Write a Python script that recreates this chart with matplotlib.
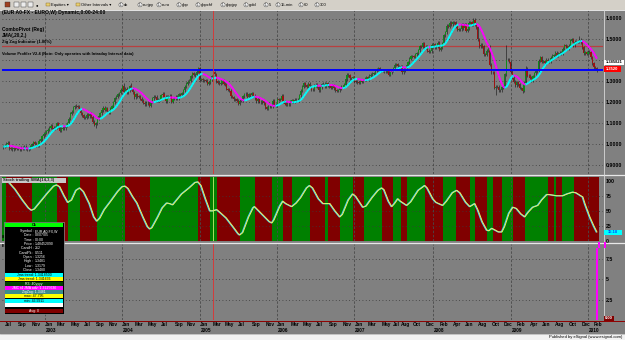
import numpy as np
import pandas as pd
import matplotlib
matplotlib.use("Agg")
import matplotlib.pyplot as plt
import matplotlib.transforms as mtransforms
from matplotlib.collections import LineCollection
from matplotlib.patches import Rectangle

plt.rcParams['font.family'] = ['Liberation Sans', 'DejaVu Sans']

# ---------------- data ----------------
first_week = "2002-06-24"   # weekly bars (EUR A0-FX, weekly)

close_2002 = [0.9880, 0.9930, 1.0010, 1.0060, 0.9810, 0.9770, 0.9760, 0.9800, 0.9770, 0.9790,
              0.9800, 0.9760, 0.9830, 0.9800, 0.9870, 0.9800, 0.9750, 0.9780, 0.9880, 0.9990,
              1.0080, 1.0010, 0.9920, 0.9950, 1.0160, 1.0220, 1.0380, 1.0490]
close_2003 = [1.0530, 1.0610, 1.0680, 1.0780, 1.0870, 1.0770, 1.0730, 1.0780,
              1.1000, 1.0850, 1.0630, 1.0740, 1.0780, 1.0750, 1.0880, 1.1000, 1.1200,
              1.1450, 1.1550, 1.1750, 1.1800, 1.1820, 1.1790, 1.1650, 1.1480, 1.1370,
              1.1250, 1.1250, 1.1410, 1.1330, 1.1440, 1.1300, 1.1070, 1.0920,
              1.1000, 1.1240, 1.1350, 1.1470, 1.1610, 1.1740, 1.1650, 1.1710, 1.1570,
              1.1500, 1.1690, 1.1800, 1.1990, 1.2200, 1.2270, 1.2390, 1.2440, 1.2590]
close_2004 = [1.2760, 1.2510, 1.2640, 1.2470, 1.2550, 1.2760, 1.2650, 1.2470,
              1.2230, 1.2380, 1.2290, 1.2270, 1.2170, 1.2070, 1.1980, 1.1910, 1.1970,
              1.1960, 1.1820, 1.2010, 1.2180, 1.2270, 1.2270, 1.2100, 1.2120, 1.2160,
              1.2340, 1.2410, 1.2270, 1.2040, 1.2260, 1.2260, 1.2300, 1.2010, 1.2170,
              1.2180, 1.2260, 1.2180, 1.2380, 1.2330, 1.2420, 1.2560, 1.2750,
              1.2880, 1.2980, 1.3020, 1.3250, 1.3380, 1.3320, 1.3290, 1.3450, 1.3620]
close_2005 = [1.3070, 1.3110, 1.3040, 1.3060, 1.3030, 1.2870, 1.2950, 1.3090, 1.3250,
              1.3420, 1.3340, 1.3000, 1.2940, 1.2880, 1.2940, 1.3050, 1.2880,
              1.2830, 1.2630, 1.2600, 1.2540, 1.2280, 1.2250, 1.2150, 1.2140, 1.2080,
              1.1930, 1.2080, 1.2080, 1.2280, 1.2380, 1.2410, 1.2260, 1.2380, 1.2330,
              1.2440, 1.2300, 1.2190, 1.2040, 1.2160, 1.2030, 1.1990, 1.2060, 1.1960,
              1.1750, 1.1690, 1.1790, 1.1780, 1.1810, 1.2080, 1.1870, 1.1840]
close_2006 = [1.2150, 1.2110, 1.2120, 1.2310, 1.2040, 1.1920, 1.1880, 1.1930, 1.1900,
              1.2030, 1.2090, 1.2030, 1.2120, 1.2110, 1.2110, 1.2340, 1.2550,
              1.2750, 1.2900, 1.2820, 1.2740, 1.2880, 1.2760, 1.2600, 1.2590, 1.2790,
              1.2830, 1.2750, 1.2560, 1.2720, 1.2870, 1.2880, 1.2760, 1.2900, 1.2780,
              1.2770, 1.2700, 1.2800, 1.2670, 1.2570, 1.2550, 1.2560, 1.2670, 1.2750,
              1.2750, 1.2840, 1.3090, 1.3310, 1.3290, 1.3140, 1.3150, 1.3190]
close_2007 = [1.3000, 1.2970, 1.2950, 1.2940, 1.3000, 1.2970, 1.3060, 1.3130, 1.3190,
              1.3120, 1.3260, 1.3310, 1.3350, 1.3390, 1.3510, 1.3560, 1.3630, 1.3510,
              1.3530, 1.3520, 1.3450, 1.3460, 1.3510, 1.3300, 1.3440, 1.3500,
              1.3630, 1.3780, 1.3820, 1.3720, 1.3710, 1.3700, 1.3420, 1.3500, 1.3630,
              1.3790, 1.3900, 1.4080, 1.4190, 1.4190, 1.4180, 1.4290, 1.4340, 1.4490,
              1.4680, 1.4640, 1.4820, 1.4630, 1.4660, 1.4450, 1.4400, 1.4430]
close_2008 = [1.4750, 1.4770, 1.4620, 1.4670, 1.4850, 1.4500, 1.4610, 1.4830, 1.5190,
              1.5350, 1.5660, 1.5600, 1.5790, 1.5730, 1.5810, 1.5810, 1.5630, 1.5460,
              1.5480, 1.5480, 1.5720, 1.5540, 1.5720, 1.5420, 1.5500, 1.5790, 1.5830,
              1.5700, 1.5940, 1.5730, 1.5580, 1.5000, 1.4670, 1.4740, 1.4670,
              1.4280, 1.4270, 1.4470, 1.4640, 1.3800, 1.3420, 1.3440, 1.2700, 1.2730,
              1.2740, 1.2580, 1.2580, 1.2710, 1.2730, 1.3330, 1.4040, 1.4030, 1.3920]
close_2009 = [1.3460, 1.3160, 1.2970, 1.2800, 1.2950, 1.2860, 1.2680, 1.2670,
              1.2550, 1.2930, 1.3590, 1.3270, 1.3270, 1.3170, 1.3020, 1.3250, 1.3380,
              1.3480, 1.3510, 1.3990, 1.4160, 1.3920, 1.3950, 1.3860, 1.4030, 1.3970,
              1.3940, 1.4130, 1.4210, 1.4250, 1.4360, 1.4210, 1.4320, 1.4360, 1.4340,
              1.4560, 1.4710, 1.4680, 1.4580, 1.4700, 1.4930, 1.5000, 1.4720,
              1.4890, 1.4900, 1.4880, 1.4990, 1.4860, 1.4620, 1.4340, 1.4400, 1.4320]
close_2010 = [1.4410, 1.4390, 1.4140, 1.3870, 1.3675, 1.3630, 1.3560]

# notable weekly extremes (bar index, value)
spike_high_idx = [3, 49, 81, 86, 131, 141, 316, 338, 351, 387]
spike_high_val = [1.0096, 1.1933, 1.2898, 1.2930, 1.3667, 1.3481, 1.6038, 1.4720, 1.3740, 1.5145]
spike_low_idx = [62, 98, 177, 331, 349, 399]
spike_low_val = [1.0765, 1.1760, 1.1640, 1.2330, 1.2455, 1.3444]

# horizontal study lines
red_line_price = 1.467
blue_line_price = 1.352
cursor_bar = 141

# stochastic oscillator (bar index, value)
osc_idx = [0, 2, 4, 8, 13, 17, 19, 21, 25, 30, 34, 36, 38, 41, 43.5, 46, 49, 51.5, 54, 58,
           61, 63, 65, 68, 72, 77, 80, 82, 84, 87, 90, 94, 97, 98.6, 100, 104, 107, 110, 112,
           114, 116, 120, 125, 129, 131, 133, 136, 139, 141, 143.6, 146, 150, 155, 158, 159,
           161, 165, 168, 169, 171, 175, 179, 180.6, 182, 186, 188, 190, 194, 197, 200, 204,
           206, 208, 212, 215, 219.6, 223, 226.3, 228, 232, 235, 237, 241.8, 244, 248, 252,
           254.5, 256, 259, 261.2, 263, 265.3, 267, 271.3, 274, 279, 283.4, 285, 288.8, 291,
           295.5, 298, 302, 304.9, 307, 311, 313.7, 315, 317, 319, 322, 325.1, 326.5, 328.5,
           330, 333, 335.2, 337, 340, 342.6, 345, 348, 350.6, 353, 356, 359.4, 362, 365.4,
           367, 369.5, 372, 376.2, 379, 382.9, 385, 387, 389.6, 391, 394.3, 397, 399]
osc_val = [97, 99, 97, 86, 68, 55, 51, 53, 65, 80, 91, 93, 90, 75, 64, 68, 84, 88, 82, 62,
           40, 33, 38, 52, 65, 82, 90, 91, 87, 74, 63, 40, 24, 20, 22, 40, 55, 63, 62,
           60, 66, 78, 88, 97, 98, 92, 70, 50, 50, 52, 47, 38, 22, 12, 10,
           14, 40, 55, 57, 52, 42, 32, 30, 35, 58, 66, 62, 57, 63, 72, 88,
           92, 88, 70, 62, 62, 50, 40, 44, 68, 78, 74, 56, 58, 72, 84,
           88, 85, 66, 57, 62, 70, 66, 59, 65, 84, 92, 88, 70, 64,
           59, 66, 80, 84, 80, 64, 57, 59, 62, 52, 32, 18, 17, 21,
           19, 15, 15, 24, 46, 56, 54, 45, 40, 48, 56, 59, 68, 77,
           77, 76, 75, 75, 78, 81, 80, 77, 73, 62, 40, 25, 15]

# red / green background bands of the oscillator pane
band_edges = [-1, 2, 19, 36, 43.5, 51.5, 63, 82, 98.6, 131, 139, 143.6, 159, 169, 180.6,
              188, 194, 206, 216.2, 218.2, 226.3, 235, 242.4, 254.5, 261.9, 267.3, 271.3,
              283.4, 295.5, 304.3, 313.7, 317, 325.1, 329.1, 335.2, 342.6, 350.6, 366.1,
              370.1, 371.5, 375.5, 383.6, 400.4]
band_up = [1, 0, 1, 0, 1, 0, 1, 0, 1, 0, 1, 0, 1, 0, 1,
           0, 1, 0, 1, 0, 1, 0, 1, 0, 1, 0, 1,
           0, 1, 0, 1, 0, 1, 0, 1, 0, 1, 0,
           1, 0, 1, 0]

# volume pane
vol_idx = [399]
vol_val = [8.8]

# axis labels
price_ticks = [0.9, 1.0, 1.1, 1.2, 1.3, 1.4, 1.5, 1.6]
price_tick_hidden = [1.4]          # covered by the JMA value box
osc_ticks = [0, 25, 50, 75, 100]
vol_ticks = [2.5, 5, 7.5]
year_months = ["2003-01", "2004-01", "2005-01", "2006-01", "2007-01", "2008-01", "2009-01", "2010-01"]
year_names = ["2003", "2004", "2005", "2006", "2007", "2008", "2009", "2010"]
year_month_shown = [1, 1, 1, 1, 1, 0, 0, 0]
month_ticks = ["2002-07", "2002-09", "2002-11",
               "2003-03", "2003-05", "2003-07", "2003-09", "2003-11",
               "2004-03", "2004-05", "2004-07", "2004-09", "2004-11",
               "2005-03", "2005-05", "2005-07", "2005-09", "2005-11",
               "2006-03", "2006-05", "2006-07", "2006-09", "2006-11",
               "2007-03", "2007-05", "2007-07", "2007-08", "2007-10", "2007-12",
               "2008-02", "2008-04", "2008-06", "2008-08", "2008-10", "2008-12",
               "2009-02", "2009-04", "2009-06", "2009-08", "2009-10", "2009-12",
               "2010-02"]
month_names = ["Jan", "Feb", "Mar", "Apr", "May", "Jun", "Jul", "Aug", "Sep", "Oct", "Nov", "Dec"]

toolbar_items = ["Equities", "Other Intervals", "dx", "eurjpy", "euro", "gbp", "gbpchf",
                 "gbpjpy", "gold", "5", "15-min", "60", "300"]
study_titles = ["(EUR A0-FX - EURO,W) Dynamic,0:00-24:00", "ComboPivot (Reg)", "JMA(,20,2,)",
                "Zig Zag Indicator (1.00%)",
                "Volume Profiler V2.4 (Note: Only operates with Intraday Interval data)"]
osc_title = "Stoch trailing SMA(14,3,3)"
dw_rows = [("Symbol", "EUR A0-FX,W"), ("Date", "03/07/05"), ("Time", "00:00"),
           ("Price", "1.48452090"), ("CandH", "212"), ("CandPk", "0.511"),
           ("Open", "1.3256"), ("High", "1.3481"), ("Low", "1.3179"), ("Close", "1.3480")]
dw_color_rows = [("Jma trend: 1.3418500", "#00ffff", "black"),
                 ("Jma trend: 1.341636", "#ffff00", "black"),
                 ("R3: 40yyyy", "#004000", "white"),
                 ("JMC t4 JMA adv: 1.3225636", "#ff00ff", "white"),
                 ("ZigZag: 1.3481", "#3c8c8c", "white"),
                 ("max: 47.795", "#ffff00", "black"),
                 ("min: 46.9911", "#00ffff", "black"),
                 ("", "#ffffff", "black")]
last_labels = {"jma": "1.385821", "price": "1.3520", "osc": "15.18", "vol": "0.00"}

# ---------------- derived ----------------
close = np.array(close_2002 + close_2003 + close_2004 + close_2005 + close_2006 +
                 close_2007 + close_2008 + close_2009 + close_2010)
n = len(close)
idx = np.arange(n)
dates = pd.date_range(first_week, periods=n, freq="7D")
opn = np.concatenate([[close[0] - 0.004], close[:-1]])
wick = 0.007
high = np.maximum(opn, close) + wick
low = np.minimum(opn, close) - wick
for i, v in zip(spike_high_idx, spike_high_val):
    high[i] = max(high[i], v)
for i, v in zip(spike_low_idx, spike_low_val):
    low[i] = min(low[i], v)


def bar_of(month):
    y, m = map(int, month.split("-"))
    return int(np.nonzero((dates.year == y) & (dates.month == m))[0][0])


def jma(src, length=22, phase=2, power=2):
    pr = phase / 100 + 1.5
    beta = 0.45 * (length - 1) / (0.45 * (length - 1) + 2)
    alpha = beta ** power
    e0, e1, e2, j = src[0], 0.0, 0.0, src[0]
    out = []
    for s in src:
        e0 = (1 - alpha) * s + alpha * e0
        e1 = (s - e0) * (1 - beta) + beta * e1
        e2 = (e0 + pr * e1 - j) * (1 - alpha) ** 2 + alpha ** 2 * e2
        j = e2 + j
        out.append(j)
    return np.array(out)


jline = jma(close)

# ---------------- layout (pixel based) ----------------
W, H = 625, 340
BG = "#808080"
fig = plt.figure(figsize=(W / 100, H / 100), dpi=100)
fig.patch.set_facecolor(BG)

# bar index <-> pixel: Jan-2003 bar (28) at x=45, 1.4877 px per bar
PX0, B0, PPB = 45.0, 28.0, 1.4877
XL, XR = 2, 603


def bx(px):
    return B0 + (px - PX0) / PPB


def px_axes(x0, y0, x1, y1, z=1):
    ax = fig.add_axes([x0 / W, 1 - y1 / H, (x1 - x0) / W, (y1 - y0) / H])
    ax.set_facecolor(BG)
    ax.set_zorder(z)
    for s in ax.spines.values():
        s.set_visible(False)
    ax.set_xlim(bx(x0), bx(x1))
    return ax


grid_dot = dict(color="#3a3a3a", linestyle=(0, (1, 3)), linewidth=0.6)
grid_dash = dict(color="#4a4a4a", linestyle=(0, (3, 2)), linewidth=0.6)
year_bars = [bar_of(m) for m in year_months]


def right_ticks(ax, ticks, labels):
    ax.yaxis.tick_right()
    ax.set_yticks(ticks, labels)
    ax.tick_params(axis="y", length=0, pad=2, labelsize=3.8)
    for t in ax.get_yticklabels():
        t.set_fontweight("bold")


# ---- price pane ----
axp = px_axes(XL, 10, XR, 174)
p_top = 1.6 + (18.5 - 10) / 209.3
p_bot = 1.6 - (174 - 18.5) / 209.3
axp.set_ylim(p_bot, p_top)
right_ticks(axp, price_ticks,
            ["" if v in price_tick_hidden else f"{v:.4f}" for v in price_ticks])
axp.set_xticks(year_bars)
axp.tick_params(axis="x", length=0, labelbottom=False)
axp.grid(axis="y", **grid_dot)
axp.grid(axis="x", **grid_dash)
axp.set_axisbelow(True)

up = close >= opn
axp.vlines(idx, low, high, color="#1c1c1c", linewidth=0.45, zorder=2)
axp.bar(idx[up], (close - opn)[up], bottom=opn[up], width=0.75, color="#0f8a1a", linewidth=0, zorder=3)
axp.bar(idx[~up], (close - opn)[~up], bottom=opn[~up], width=0.75, color="#9c1212", linewidth=0, zorder=3)

pts = np.column_stack([idx, jline])
segs = np.stack([pts[:-1], pts[1:]], axis=1)
cols = ["#00ffff" if jline[i + 1] >= jline[i] else "#ff00ff" for i in range(n - 1)]
axp.add_collection(LineCollection(segs, colors=cols, linewidths=1.4, zorder=4))

axp.axhline(red_line_price, color="#b84040", linewidth=0.9, zorder=1.5)
axp.axhline(blue_line_price, color="#0000ff", linewidth=1.4, zorder=5)
axp.axvline(cursor_bar, color="#e03030", linewidth=0.6, zorder=6)

# ---- oscillator pane ----
axo = px_axes(XL, 177, XR, 241)
axo.set_ylim(0, (241 - 177) / 0.603)
right_ticks(axo, osc_ticks, [str(v) for v in osc_ticks])
axo.set_xticks([])
for k in range(len(band_up)):
    axo.axvspan(band_edges[k], band_edges[k + 1], color="#008000" if band_up[k] else "#800000",
                linewidth=0, zorder=0.5)
for v in osc_ticks[1:-1]:
    axo.axhline(v, zorder=0.8, **grid_dot)
for b in year_bars:
    axo.axvline(b, zorder=0.8, **grid_dash)
axo.plot(np.array(osc_idx) - 0.5, osc_val, color="#40d0ff", linewidth=0.9, zorder=2,
         solid_joinstyle="round")
axo.plot(osc_idx, osc_val, color="#f0f060", linewidth=0.7, zorder=2.1, solid_joinstyle="round")
axo.axvline(cursor_bar, color="#c8f070", linewidth=0.6, zorder=3)

# ---- volume pane ----
axv = px_axes(XL, 244, XR, 320)
axv.set_ylim(0, (320 - 244) / 8.15)
right_ticks(axv, vol_ticks, ["2.5", "5", "7.5"])
axv.grid(axis="y", **grid_dot)
axv.set_xticks(year_bars, ["Jan" if s else "" for s in year_month_shown])
axv.set_xticks([bar_of(m) for m in month_ticks],
               [month_names[int(m[5:]) - 1] for m in month_ticks], minor=True)
axv.tick_params(axis="x", which="both", length=0, pad=1.3, labelsize=3.4)
for t in axv.get_xticklabels() + axv.get_xticklabels(minor=True):
    t.set_horizontalalignment("left")
    t.set_fontweight("bold")
axv.grid(axis="x", which="major", **grid_dash)
axv.set_axisbelow(True)
ytrans = mtransforms.blended_transform_factory(axv.transData, axv.transAxes)
for b, s in zip(year_bars, year_names):
    axv.text(b + 0.6, -10.3 / 76, s, transform=ytrans, fontsize=3.4, fontweight="bold",
             ha="left", va="center", color="black", clip_on=False)
axv.bar(vol_idx, vol_val, width=1.2, color="#ff00ff", zorder=3)
axv.axvline(cursor_bar, color="#e03030", linewidth=0.6, zorder=3)

# ---- decoration overlay (pixel coordinates) ----
deco = fig.add_axes([0, 0, 1, 1])
deco.set_zorder(10)
deco.set_xlim(0, W)
deco.set_ylim(H, 0)
deco.axis("off")
deco.patch.set_alpha(0)


def rect(x, y, w, h, fc, ec="none", lw=0, z=1):
    deco.add_patch(Rectangle((x, y), w, h, facecolor=fc, edgecolor=ec, linewidth=lw, zorder=z))


# toolbar
rect(0, 0, W, 9.5, "#d4d0c8")
deco.plot([0, W], [9.6, 9.6], color="#f4f4f4", lw=0.6)
for k, (x, c) in enumerate([(5, "#a04020"), (14, "#404040"), (21, "#404040"), (28, "#404040")]):
    rect(x, 2, 5, 5, c if k == 0 else "#ececec", ec="#303030", lw=0.3, z=2)
deco.text(36.5, 4.8, "\u25cf", fontsize=3, ha="center", va="center", color="black")
tb_x = [46, 76, 119, 138, 157, 177, 196, 221, 244, 264, 276, 299, 315]
for x, s in zip(tb_x, toolbar_items):
    if s in ("Equities", "Other Intervals"):
        rect(x, 2.5, 4, 3.5, "#e8d070", ec="#806020", lw=0.3, z=2)
        deco.text(x + 5, 4.8, s + " \u25be", fontsize=3.0, va="center", ha="left", color="black")
    else:
        deco.add_patch(plt.Circle((x + 2, 4.8), 2.1, facecolor="#f4f4f4", edgecolor="#303030",
                                  linewidth=0.3, zorder=2))
        deco.text(x + 2, 4.8, "1", fontsize=2.2, ha="center", va="center", color="black", zorder=3)
        deco.text(x + 5, 4.8, s, fontsize=3.0, va="center", ha="left", color="black")

# study titles
for (y, s, fs) in zip([12.8, 29.5, 35.8, 42.3, 54.0], study_titles, [3.6, 3.4, 3.4, 3.1, 2.9]):
    deco.text(1.5, y, s, fontsize=fs, fontweight="bold", va="center", ha="left", color="black")

# pane separators
deco.plot([0, W], [175.2, 175.2], color="#e8e8e8", lw=0.9)
deco.plot([0, W], [242.6, 242.6], color="#e8e8e8", lw=0.9)
deco.plot([0, W], [320.6, 320.6], color="#900000", lw=0.7)
deco.plot([603.5, 603.5], [10, 320], color="#d8d8d8", lw=0.6)

# oscillator title box
rect(2, 177.5, 64, 5.5, "#c8c8c8", z=3)
deco.text(3, 180.3, osc_title, fontsize=3.0, fontweight="bold", va="center", ha="left",
          color="#202020", zorder=4)

# right-hand value labels
rect(604, 59.5, 20, 5.6, "#ffffff", z=3)
deco.text(614, 62.3, last_labels["jma"], fontsize=2.9, fontweight="bold", ha="center",
          va="center", color="black", zorder=4)
rect(604, 66.2, 17, 5.6, "#ff0000", z=3)
deco.text(612.5, 69.0, last_labels["price"], fontsize=2.9, fontweight="bold", ha="center",
          va="center", color="white", zorder=4)
rect(604, 229.5, 18, 5.6, "#00ffff", z=3)
deco.text(613, 232.3, last_labels["osc"], fontsize=2.9, fontweight="bold", ha="center",
          va="center", color="#0040ff", zorder=4)
rect(603.5, 315.5, 10, 5, "#800000", z=3)
deco.text(608.5, 318, last_labels["vol"], fontsize=2.9, fontweight="bold", ha="center",
          va="center", color="white", zorder=4)
rect(598, 242, 1.5, 6, "#ff00ff", z=3)
rect(604, 242, 1.5, 6, "#ff00ff", z=3)
deco.text(1.5, 237, "8", fontsize=3, fontweight="bold", color="black", va="center", zorder=2)
deco.text(1.5, 246, "B", fontsize=3, fontweight="bold", color="black", va="center", zorder=2)

# data window
rect(4, 222, 60, 92, "#000000", ec="#b0b0b0", lw=0.4, z=5)
rect(5, 222.8, 58, 4.3, "#00ff00", z=6)
deco.text(34, 225, "Ok", fontsize=2.6, fontweight="bold", ha="center", va="center", color="black", zorder=7)
y = 231.2
for lab, val in dw_rows:
    deco.text(33.5, y, lab + " :", fontsize=2.5, ha="right", va="center", color="white", zorder=7)
    deco.text(35, y, val, fontsize=2.5, ha="left", va="center", color="white", zorder=7)
    y += 4.3
y = 273.2
for s, fc, tc in dw_color_rows:
    rect(5, y, 58, 3.9, fc, z=6)
    deco.text(34, y + 2.0, s, fontsize=2.5, ha="center", va="center", color=tc, zorder=7)
    y += 4.25
rect(5, 308.5, 58, 4.2, "#800000", z=6)
deco.text(34, 310.6, "Avg: 0", fontsize=2.5, ha="center", va="center", color="white", zorder=7)

# footer
rect(0, 333.5, W, 6.5, "#f2f2f2")
deco.plot([0, W], [333.5, 333.5], color="#b0b0b0", lw=0.5)
deco.text(622, 337, "Published by eSignal (www.esignal.com)", fontsize=3.0, ha="right",
          va="center", color="black")

fig.savefig("out.png", dpi=100, facecolor=BG)
